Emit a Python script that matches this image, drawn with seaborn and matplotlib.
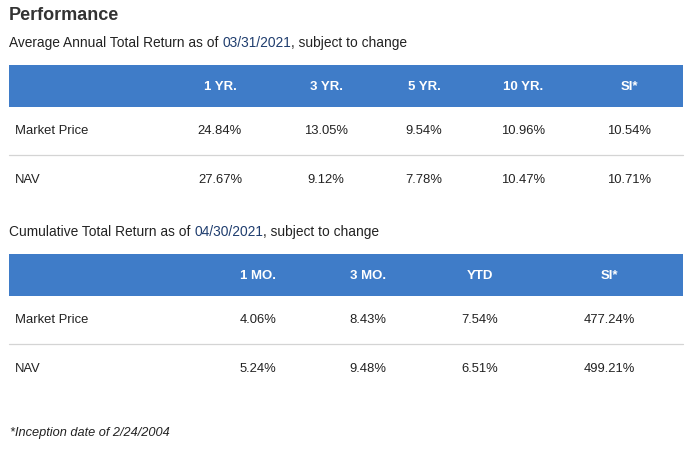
import matplotlib
matplotlib.use("Agg")
import matplotlib.pyplot as plt
import seaborn as sns

sns.set_style("white")
plt.rcParams["font.family"] = ["Liberation Sans", "DejaVu Sans"]

# ---------- data ----------
row_labels = ["Market Price", "NAV"]

annual_date = "03/31/2021"
annual_cols = ["1 YR.", "3 YR.", "5 YR.", "10 YR.", "SI*"]
annual_market = [24.84, 13.05, 9.54, 10.96, 10.54]
annual_nav = [27.67, 9.12, 7.78, 10.47, 10.71]

cum_date = "04/30/2021"
cum_cols = ["1 MO.", "3 MO.", "YTD", "SI*"]
cum_market = [4.06, 8.43, 7.54, 477.24]
cum_nav = [5.24, 9.48, 6.51, 499.21]

inception = "2/24/2004"

# ---------- layout (pixel space) ----------
W, H = 697, 449
LEFT, RIGHT = 9, 683
BLUE = "#3f7cc8"
DATE_BLUE = "#1f3d6e"
TEXT = "#222222"

fig = plt.figure(figsize=(W / 100, H / 100), dpi=100)
ax = fig.add_axes([0, 0, 1, 1])
ax.set_xlim(0, W)
ax.set_ylim(H, 0)
ax.axis("off")


def subtitle(y, prefix, date, suffix):
    fig.canvas.draw()
    x = LEFT
    for s, c in [(prefix, TEXT), (date, DATE_BLUE), (suffix, TEXT)]:
        t = ax.text(x, y, s, fontsize=9.95, color=c, va="baseline", ha="left")
        bb = t.get_window_extent(renderer=fig.canvas.get_renderer())
        x = ax.transData.inverted().transform((bb.x1, 0))[0]


def draw_table(top, cols, col_x, values):
    band_h = 42
    ax.fill_between([LEFT, RIGHT], top, top + band_h, color=BLUE, lw=0)
    for c, x in zip(cols, col_x):
        ax.text(x, top + band_h / 2 + 1, c, color="white", fontsize=9.5,
                fontweight="bold", ha="center", va="center")
    row_y = [top + band_h + 24, top + band_h + 73]
    for label, vals, y in zip(row_labels, values, row_y):
        ax.text(15, y, label, fontsize=9.4, color=TEXT, ha="left", va="center")
        for v, x in zip(vals, col_x):
            ax.text(x, y, f"{v:.2f}%", fontsize=9.4, color=TEXT,
                    ha="center", va="center")
    ax.plot([LEFT, RIGHT], [top + band_h + 48] * 2, color="#d4d4d4", lw=0.9)


ax.text(LEFT, 20, "Performance", fontsize=13, fontweight="bold",
        color="#333333", va="baseline")

subtitle(47, "Average Annual Total Return as of ", annual_date, ", subject to change")
draw_table(65, annual_cols, [220, 326, 424, 523, 629], [annual_market, annual_nav])

subtitle(236, "Cumulative Total Return as of ", cum_date, ", subject to change")
draw_table(254, cum_cols, [258, 368, 480, 609], [cum_market, cum_nav])

ax.text(10, 436, f"*Inception date of {inception}", fontsize=9.2,
        style="italic", color=TEXT, va="baseline")

fig.savefig("out.png", dpi=100)
